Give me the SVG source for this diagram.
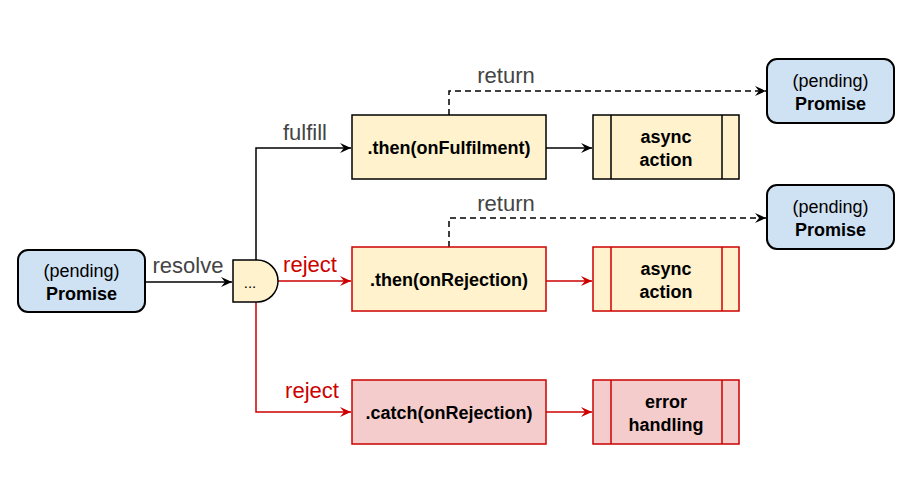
<svg xmlns="http://www.w3.org/2000/svg" width="907" height="481" viewBox="0 0 907 481">
<defs>
<marker id="ab" markerWidth="12" markerHeight="10" refX="11" refY="5" orient="auto" markerUnits="userSpaceOnUse"><path d="M0,0 L11,5 L0,10 L4,5 Z" fill="#000"/></marker>
<marker id="ar" markerWidth="12" markerHeight="10" refX="11" refY="5" orient="auto" markerUnits="userSpaceOnUse"><path d="M0,0 L11,5 L0,10 L4,5 Z" fill="#cc0000"/></marker>
</defs>
<style>
text{font-family:"Liberation Sans",Arial,sans-serif;}
.p{fill:#cfe2f3;stroke:#000;stroke-width:2;}
.y{fill:#fff2cc;stroke:#000;stroke-width:1.5;}
.yr{fill:#fff2cc;stroke:#cc0000;stroke-width:1.5;}
.r{fill:#f4cccc;stroke:#cc0000;stroke-width:1.5;}
.t{font-size:18px;text-anchor:middle;fill:#000;}
.b{font-weight:bold;}
.lb{font-size:22px;text-anchor:middle;fill:#444;}
.lr{font-size:22px;text-anchor:middle;fill:#cc0000;}
.cb{fill:none;stroke:#000;stroke-width:1.5;}
.cr{fill:none;stroke:#cc0000;stroke-width:1.5;}
.cd{fill:none;stroke:#000;stroke-width:1.5;stroke-dasharray:6,4;}
</style>
<rect width="907" height="481" fill="#fff"/>
<g id="connectors">
<path class="cb" d="M145,282 L232,282" marker-end="url(#ab)"/>
<path class="cb" d="M256,260 L256,148 L351,148" marker-end="url(#ab)"/>
<path class="cr" d="M278,281 L351,281" marker-end="url(#ar)"/>
<path class="cr" d="M256,302 L256,412 L351,412" marker-end="url(#ar)"/>
<path class="cb" d="M546,148 L592,148" marker-end="url(#ab)"/>
<path class="cr" d="M546,281 L592,281" marker-end="url(#ar)"/>
<path class="cr" d="M546,412 L592,412" marker-end="url(#ar)"/>
<path class="cd" d="M449,115 L449,91 L766,91" marker-end="url(#ab)"/>
<path class="cd" d="M449,247 L449,218 L766,218" marker-end="url(#ab)"/>
<text class="lb" x="188" y="273">resolve</text>
<text class="lb" x="305" y="140">fulfill</text>
<text class="lr" x="310" y="272">reject</text>
<text class="lr" x="312" y="398">reject</text>
<text class="lb" x="506" y="83">return</text>
<text class="lb" x="506" y="211">return</text>
</g>
<g id="promise0">
<rect class="p" x="18" y="250" width="127" height="62" rx="10"/>
<text class="t" x="81.5" y="277">(pending)</text>
<text class="t b" x="81.5" y="300">Promise</text>
</g>
<g id="gate">
<path class="y" d="M233,260 L257,260 A21,21 0 0 1 257,302 L233,302 Z"/>
<text class="t" x="250" y="288" style="font-size:15px">...</text>
</g>
<g id="thenFulfil">
<rect class="y" x="352" y="115" width="194" height="64"/>
<text class="t b" x="449" y="154">.then(onFulfilment)</text>
</g>
<g id="async1">
<rect class="y" x="593" y="115" width="146" height="64"/>
<line class="cb" x1="611" y1="115" x2="611" y2="179"/>
<line class="cb" x1="722" y1="115" x2="722" y2="179"/>
<text class="t b" x="666" y="143">async</text>
<text class="t b" x="666" y="166">action</text>
</g>
<g id="thenReject">
<rect class="yr" x="352" y="247" width="194" height="64"/>
<text class="t b" x="449" y="286">.then(onRejection)</text>
</g>
<g id="async2">
<rect class="yr" x="593" y="247" width="146" height="64"/>
<line class="cr" x1="611" y1="247" x2="611" y2="311"/>
<line class="cr" x1="722" y1="247" x2="722" y2="311"/>
<text class="t b" x="666" y="275">async</text>
<text class="t b" x="666" y="298">action</text>
</g>
<g id="catch">
<rect class="r" x="352" y="380" width="194" height="64"/>
<text class="t b" x="449" y="419">.catch(onRejection)</text>
</g>
<g id="errorHandling">
<rect class="r" x="593" y="380" width="146" height="64"/>
<line class="cr" x1="611" y1="380" x2="611" y2="444"/>
<line class="cr" x1="722" y1="380" x2="722" y2="444"/>
<text class="t b" x="666" y="408">error</text>
<text class="t b" x="666" y="431">handling</text>
</g>
<g id="promise1">
<rect class="p" x="767" y="59" width="127" height="64" rx="10"/>
<text class="t" x="830.5" y="87">(pending)</text>
<text class="t b" x="830.5" y="110">Promise</text>
</g>
<g id="promise2">
<rect class="p" x="767" y="185" width="127" height="64" rx="10"/>
<text class="t" x="830.5" y="213">(pending)</text>
<text class="t b" x="830.5" y="236">Promise</text>
</g>
</svg>
